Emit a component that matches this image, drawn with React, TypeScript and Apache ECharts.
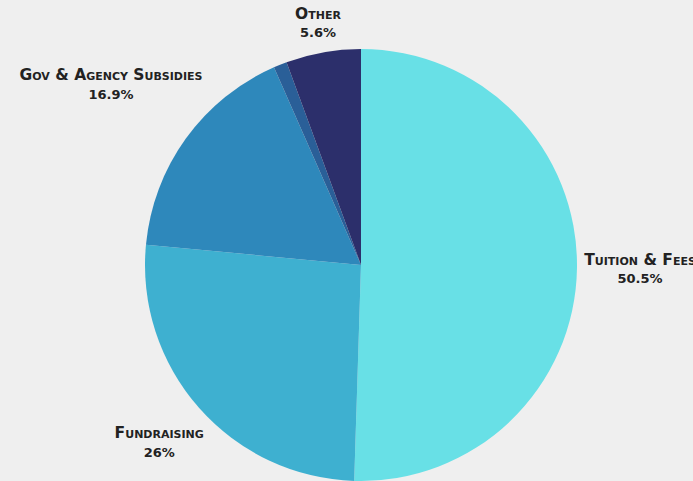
import React, { useEffect, useRef } from "react";
import * as echarts from "echarts";

const categories = ["Tuition & Fees", "Fundraising", "Gov & Agency Subsidies", "Investments", "Other"];
const values = [50.5, 26, 16.9, 1.0, 5.6];
const colors = ["#68e0e6", "#3eb0d0", "#2e88bb", "#2a5f98", "#2c2f6b"];
const showLabel = [true, true, true, false, true];

export default function App() {
  const ref = useRef<HTMLDivElement>(null);
  useEffect(() => {
    if (!ref.current) return;
    const chart = echarts.init(ref.current, null, { renderer: "svg" });
    const cx = 361, cy = 265, R = 216, gap = 7;
    const nameSize = 15.5, valueSize = 13, lineHeight = 19;
    const fam = "DejaVu Sans";
    const total = values.reduce((a, b) => a + b, 0);
    const mids: number[] = [];
    let acc = 0;
    values.forEach((v) => {
      mids.push(((acc + v / 2) / total) * Math.PI * 2);
      acc += v;
    });
    const cv = document.createElement("canvas").getContext("2d")!;
    const widthOf = (i: number) => {
      cv.font = `small-caps bold ${nameSize}px "${fam}"`;
      const a = cv.measureText(categories[i]).width;
      cv.font = `bold ${valueSize}px "${fam}"`;
      const b = cv.measureText(values[i] + "%").width;
      return Math.max(a, b);
    };
    chart.setOption({
      animation: false,
      backgroundColor: "#efefef",
      series: [
        {
          type: "pie",
          center: [cx, cy],
          radius: R,
          startAngle: 90,
          clockwise: true,
          avoidLabelOverlap: false,
          labelLine: { show: false },
          label: {
            show: true,
            position: "outside",
            formatter: "{n|{b}}\n{v|{c}%}",
            color: "#222222",
            align: "center",
            rich: {
              n: {
                fontFamily: fam + ";font-variant:small-caps",
                fontWeight: "bold",
                fontSize: nameSize,
                lineHeight,
                color: "#222222",
                align: "center",
              },
              v: {
                fontFamily: fam,
                fontWeight: "bold",
                fontSize: valueSize,
                lineHeight,
                color: "#222222",
                align: "center",
              },
            },
          },
          labelLayout: (params: any) => {
            const i = params.dataIndex;
            const a = mids[i];
            const s = Math.sin(a), c = Math.cos(a);
            const w = widthOf(i), h = lineHeight * 2;
            const D = R + gap + Math.abs(s) * w / 2 + Math.abs(c) * h / 2;
            return { x: cx + D * s, y: cy - D * c, align: "center", verticalAlign: "middle" };
          },
          data: categories.map((name, i) => ({
            name,
            value: values[i],
            itemStyle: { color: colors[i] },
            label: { show: showLabel[i] },
          })),
        },
      ],
    });
    return () => chart.dispose();
  }, []);
  return <div ref={ref} style={{ position: "fixed", left: 0, top: 0, width: 693, height: 481 }} />;
}
